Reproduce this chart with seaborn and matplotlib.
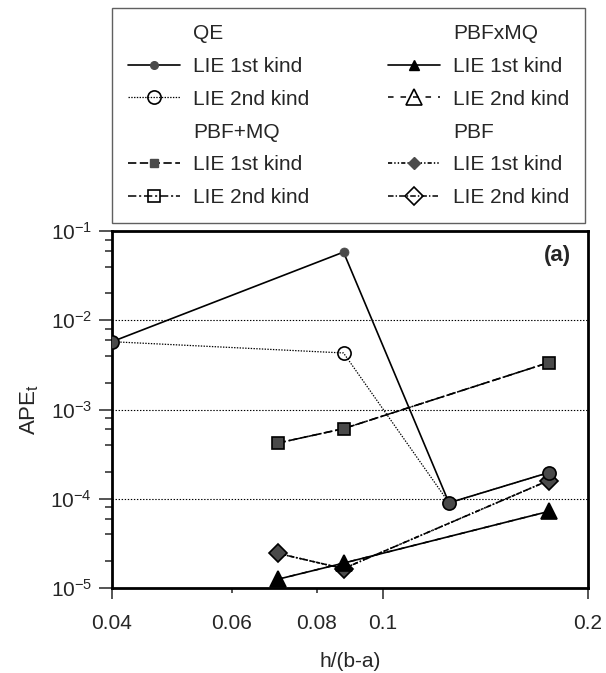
import numpy as np
import pandas as pd
import matplotlib
matplotlib.use("Agg")
import matplotlib.pyplot as plt
from matplotlib.lines import Line2D
from matplotlib.ticker import FixedLocator, FixedFormatter, LogLocator, NullFormatter
import seaborn as sns

# ---- data -------------------------------------------------------------
x_qe = [0.04, 0.0875, 0.125, 0.175]
qe_1st = [5.75e-3, 5.8e-2, 9.0e-5, 1.96e-4]
qe_2nd = [5.75e-3, 4.3e-3, 9.0e-5, 1.96e-4]

x_rbf = [0.07, 0.0875, 0.175]
pbf_plus_mq_1st = [4.2e-4, 6.1e-4, 3.35e-3]
pbf_plus_mq_2nd = [4.2e-4, 6.1e-4, 3.35e-3]
pbf_x_mq_1st = [1.25e-5, 1.9e-5, 7.2e-5]
pbf_x_mq_2nd = [1.25e-5, 1.9e-5, 7.2e-5]
pbf_1st = [2.45e-5, 1.65e-5, 1.6e-4]
pbf_2nd = [2.45e-5, 1.65e-5, 1.6e-4]

groups = ["QE", "PBF+MQ", "PBFxMQ", "PBF"]
kind_labels = ["LIE 1st kind", "LIE 2nd kind"]

x_major = [0.04, 0.1, 0.2]
x_minor = [0.06, 0.08]
x_major_labels = ["0.04", "0.1", "0.2"]
x_minor_labels = ["0.06", "0.08"]

# ---- style ------------------------------------------------------------
sns.set_style("white")
plt.rcParams["font.family"] = ["Liberation Sans", "DejaVu Sans"]
plt.rcParams["mathtext.fontset"] = "custom"
plt.rcParams["mathtext.rm"] = "Liberation Sans"
plt.rcParams["mathtext.it"] = "Liberation Sans:italic"
plt.rcParams["mathtext.bf"] = "Liberation Sans:bold"
plt.rcParams["lines.scale_dashes"] = False

FS = 15
GRAY = "#4a4a4a"

fig = plt.figure(figsize=(6.06, 6.73), dpi=100)
ax = fig.add_axes([112 / 606, 85 / 673, 476 / 606, 357 / 673])

# per-series styling: (x, first, second, marker, fill, big size, small size, ls1, ls2, zorder)
series = {
    "PBF": (x_rbf, pbf_1st, pbf_2nd, "D", GRAY, 9.0, 6.0,
            (0, (3, 1.5, 1, 1.5, 1, 1.5)), (0, (4, 1.5, 1, 1.5)), 3),
    "PBFxMQ": (x_rbf, pbf_x_mq_1st, pbf_x_mq_2nd, "^", "black", 11.0, 6.5,
               "-", (0, (4, 5)), 4),
    "PBF+MQ": (x_rbf, pbf_plus_mq_1st, pbf_plus_mq_2nd, "s", GRAY, 9.0, 5.5,
               (0, (6, 2.5)), (0, (6, 2, 1.5, 2)), 5),
    "QE": (x_qe, qe_1st, qe_2nd, "o", GRAY, 9.5, 5.5,
           "-", (0, (1, 1)), 6),
}

for name, (xs, y1, y2, mk, fill, big, small, ls1, ls2, z) in series.items():
    xs = np.asarray(xs)
    y1 = np.asarray(y1)
    y2 = np.asarray(y2)
    df2 = pd.DataFrame({"x": xs, "y": y2})
    df1 = pd.DataFrame({"x": xs, "y": y1})
    lw2 = 0.9 if name == "QE" else 1.1
    sns.lineplot(data=df2, x="x", y="y", ax=ax, color="black", linewidth=lw2,
                 linestyle=ls2, sort=False, estimator=None, errorbar=None,
                 zorder=z)
    sns.lineplot(data=df1, x="x", y="y", ax=ax, color="black", linewidth=1.2,
                 linestyle=ls1, sort=False, estimator=None, errorbar=None,
                 zorder=z)
    same = np.isclose(y1, y2, rtol=1e-6)
    # second-kind markers: filled where both kinds coincide, open elsewhere
    ax.plot(xs[same], y2[same], linestyle="none", marker=mk, ms=big,
            mfc=fill, mec="black", mew=1.2, zorder=z + 10)
    ax.plot(xs[~same], y2[~same], linestyle="none", marker=mk, ms=big,
            mfc="none", mec="black", mew=1.2, zorder=z + 10)
    ax.plot(xs[~same], y1[~same], linestyle="none", marker=mk, ms=small + 1,
            mfc=fill, mec=fill, mew=0.5, zorder=z + 10)

# ---- axes -------------------------------------------------------------
ax.set_xscale("log")
ax.set_yscale("log")
ax.set_xlim(0.04, 0.2)
ax.set_ylim(1e-5, 1e-1)

ax.xaxis.set_major_locator(FixedLocator(x_major))
ax.xaxis.set_major_formatter(FixedFormatter(x_major_labels))
ax.xaxis.set_minor_locator(FixedLocator(x_minor))
ax.xaxis.set_minor_formatter(FixedFormatter(x_minor_labels))
ax.tick_params(axis="x", which="major", direction="out", length=8, width=1.1,
               pad=11, labelsize=FS, bottom=True)
ax.tick_params(axis="x", which="minor", direction="out", length=3.6, width=1.1,
               pad=15.4, labelsize=FS, bottom=True)

ax.yaxis.set_major_locator(LogLocator(base=10, numticks=10))
ax.yaxis.set_minor_locator(LogLocator(base=10, subs=[2, 4, 6, 8], numticks=20))
ax.yaxis.set_minor_formatter(NullFormatter())
ax.tick_params(axis="y", which="major", direction="out", length=9.4, width=1.1,
               pad=5, labelsize=FS, left=True)
ax.tick_params(axis="y", which="minor", direction="out", length=5, width=1.1,
               left=True)

for sp in ax.spines.values():
    sp.set_linewidth(2.0)
    sp.set_color("black")

for yv in [1e-2, 1e-3, 1e-4]:
    ax.axhline(yv, color="black", linewidth=0.8, linestyle=(0, (1, 1.2)),
               zorder=1)

ax.set_xlabel("h/(b-a)", fontsize=FS)
ax.set_ylabel(r"APE$_\mathrm{t}$", fontsize=FS + 1)
ax.xaxis.set_label_coords(0.5, -0.18)
ax.yaxis.set_label_coords(-0.15, 0.5)

ax.text(0.965, 0.93, "(a)", transform=ax.transAxes, ha="right", va="center",
        fontsize=FS + 1, fontweight="bold")

# ---- legend -----------------------------------------------------------
def header(label):
    return Line2D([], [], linestyle="none", marker="none", label=label)


def entry(name, kind):
    xs, y1, y2, mk, fill, big, small, ls1, ls2, z = series[name]
    if kind == 0:
        return Line2D([], [], color="black", linewidth=1.2, linestyle=ls1,
                      marker=mk, ms=small, mfc=fill, mec=fill,
                      label=kind_labels[0])
    return Line2D([], [], color="black", linewidth=0.9 if name == "QE" else 1.1,
                  linestyle=ls2, marker=mk, ms=big, mfc="none", mec="black",
                  mew=1.2, label=kind_labels[1])


handles = []
for name in groups:
    handles.append(header(name))
    handles.append(entry(name, 0))
    handles.append(entry(name, 1))

leg = fig.legend(handles=handles, ncol=2, loc="upper left",
                 bbox_to_anchor=(112 / 606, 1 - 8 / 673),
                 bbox_transform=fig.transFigure, borderaxespad=0,
                 fontsize=FS, frameon=True, fancybox=False,
                 handlelength=2.5, handletextpad=0.6, columnspacing=3.8,
                 borderpad=0.78, labelspacing=0.66)
leg.get_frame().set_edgecolor("#606060")
leg.get_frame().set_linewidth(1.0)
leg.get_frame().set_facecolor("white")
leg.get_frame().set_alpha(1)

fig.savefig("out.png", dpi=100)
